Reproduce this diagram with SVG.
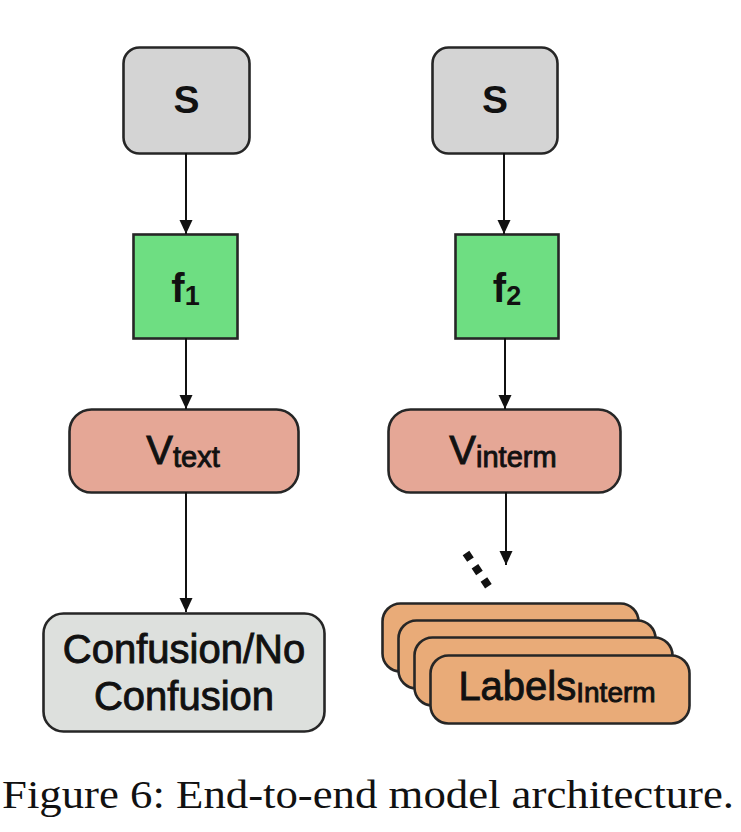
<svg xmlns="http://www.w3.org/2000/svg" width="741" height="832" viewBox="0 0 741 832">
  <style>
    .box { stroke: #262626; stroke-width: 2.6; }
    .s { fill: #d4d4d4; }
    .f { fill: #6ede82; }
    .v { fill: #e5a796; }
    .c { fill: #dde0dd; }
    .l { fill: #e9ab78; }
    .t { font-family: "Liberation Sans", Arial, sans-serif; fill: #111; text-anchor: middle; }
    .b { font-weight: bold; }
    .m { stroke: #111; stroke-width: 0.9; }
    .conn { stroke: #111; stroke-width: 2; fill: none; }
    .cap { font-family: "Liberation Serif", "Times New Roman", serif; fill: #111; }
  </style>
  <defs>
    <marker id="arr" markerUnits="userSpaceOnUse" markerWidth="14" markerHeight="14" refX="14" refY="7" orient="auto">
      <path d="M0,0.5 L14,7 L0,13.5 z" fill="#111"/>
    </marker>
  </defs>
  <rect width="741" height="832" fill="#fff"/>

  <g id="s1">
    <rect class="box s" x="123.5" y="47.5" width="126" height="106" rx="16"/>
    <text class="t b" x="186.5" y="113" font-size="39">S</text>
  </g>
  <g id="s2">
    <rect class="box s" x="432.5" y="47.5" width="125" height="106" rx="16"/>
    <text class="t b" x="495" y="113" font-size="39">S</text>
  </g>
  <g id="f1">
    <rect class="box f" x="133.5" y="234.5" width="104" height="104"/>
    <text class="t b" x="185.5" y="302" font-size="40">f<tspan font-size="27" dy="3">1</tspan></text>
  </g>
  <g id="f2">
    <rect class="box f" x="455.5" y="234.5" width="103" height="104"/>
    <text class="t b" x="507" y="302" font-size="40">f<tspan font-size="27" dy="3">2</tspan></text>
  </g>
  <g id="vtext">
    <rect class="box v" x="69.5" y="409.5" width="229" height="83" rx="22"/>
    <text class="t m" x="183" y="464" font-size="40">V<tspan font-size="29" dy="3">text</tspan></text>
  </g>
  <g id="vinterm">
    <rect class="box v" x="388.5" y="409.5" width="232" height="83" rx="22"/>
    <text class="t m" x="503" y="464" font-size="40">V<tspan font-size="29" dy="3">interm</tspan></text>
  </g>
  <g id="confusion">
    <rect class="box c" x="43.5" y="613.5" width="281" height="118" rx="20"/>
    <text class="t m" x="184" y="663" font-size="40">Confusion/No</text>
    <text class="t m" x="184" y="710" font-size="40">Confusion</text>
  </g>
  <g id="labels">
    <rect class="box l" x="382.5" y="603.5" width="256" height="68" rx="18"/>
    <rect class="box l" x="398.5" y="620.5" width="257" height="68" rx="18"/>
    <rect class="box l" x="414.5" y="637.5" width="258" height="68" rx="18"/>
    <rect class="box l" x="430.5" y="655.5" width="259" height="68" rx="18"/>
    <text class="t m" x="557" y="700" font-size="40">Labels<tspan font-size="28" dy="2">Interm</tspan></text>
  </g>

  <g id="connectors">
    <line class="conn" x1="186" y1="153" x2="186" y2="234" marker-end="url(#arr)"/>
    <line class="conn" x1="186" y1="338" x2="186" y2="409" marker-end="url(#arr)"/>
    <line class="conn" x1="186" y1="492" x2="186" y2="612" marker-end="url(#arr)"/>
    <line class="conn" x1="504" y1="153" x2="504" y2="234" marker-end="url(#arr)"/>
    <line class="conn" x1="505" y1="338" x2="505" y2="409" marker-end="url(#arr)"/>
    <line class="conn" x1="506" y1="492" x2="506" y2="565" marker-end="url(#arr)"/>
    <line x1="466" y1="553" x2="491" y2="590" stroke="#111" stroke-width="8" stroke-dasharray="8 8"/>
  </g>

  <text class="cap" x="2" y="808" font-size="40" textLength="732" lengthAdjust="spacingAndGlyphs">Figure 6: End-to-end model architecture.</text>
</svg>
